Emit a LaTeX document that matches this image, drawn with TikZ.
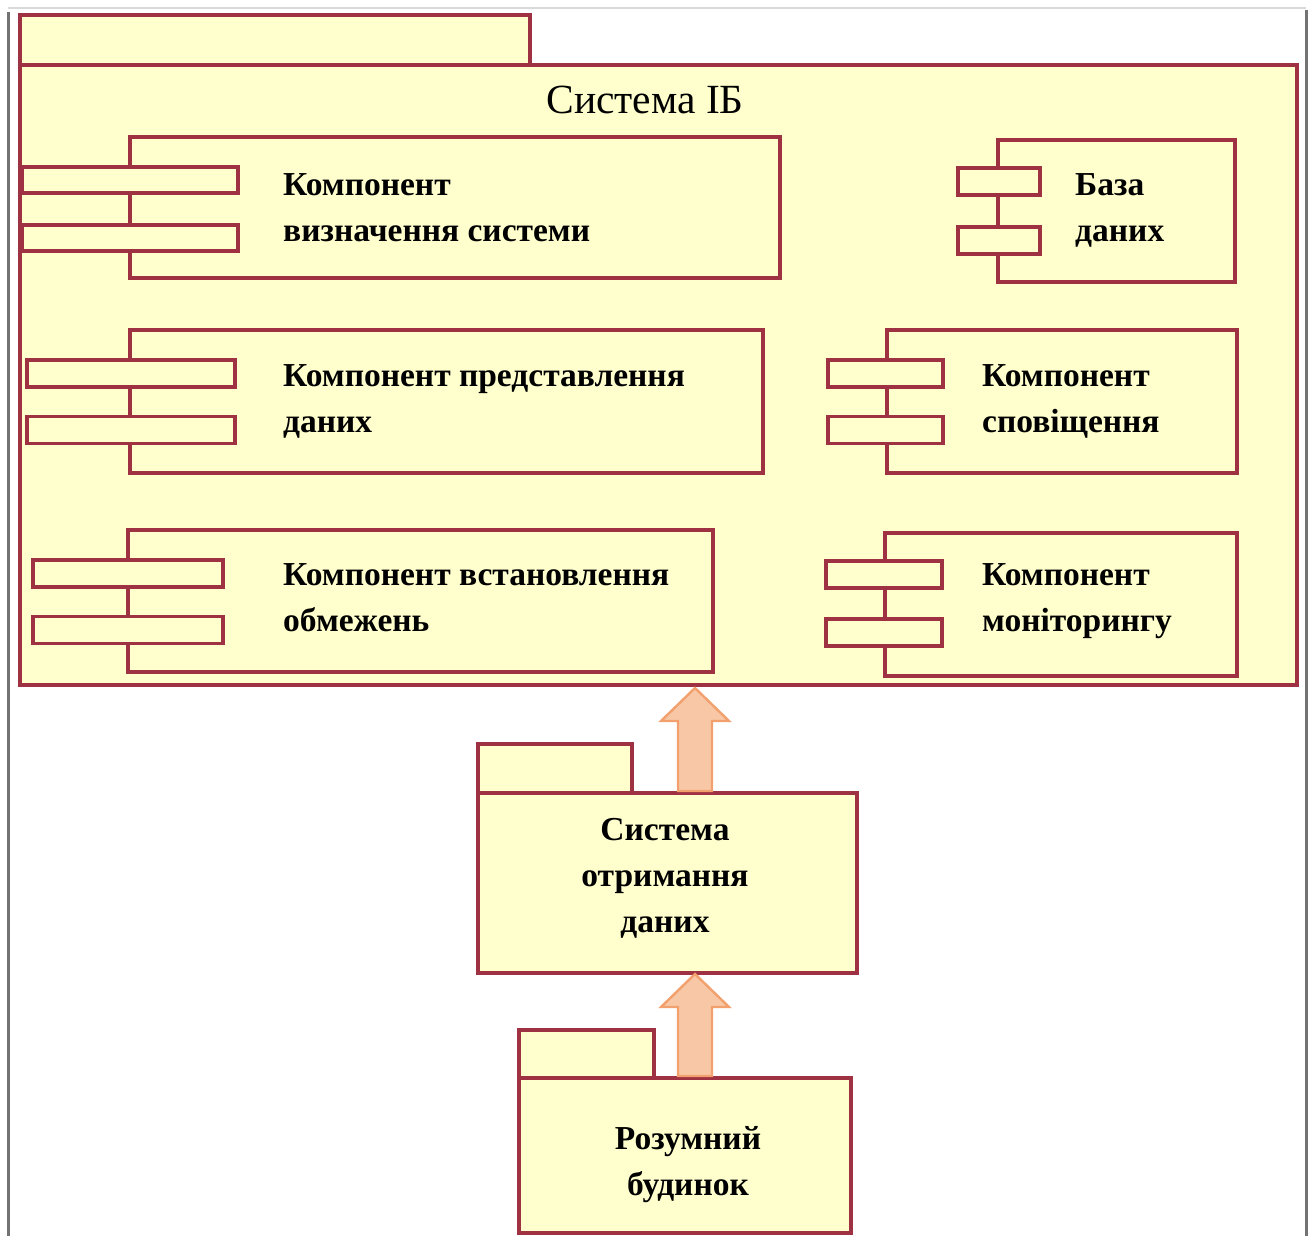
\documentclass[tikz,border=0pt]{standalone}
\usepackage{fontspec}
\setmainfont{Liberation Serif}
\definecolor{umlred}{RGB}{158,50,66}
\definecolor{umlyel}{RGB}{255,255,205}
\definecolor{arrfill}{RGB}{248,199,165}
\definecolor{arrdraw}{RGB}{242,160,110}
\tikzset{
  box/.style={draw=umlred, fill=umlyel, line width=3.4pt, rectangle, inner sep=0pt, outer sep=0pt},
  lbl/.style={inner sep=0pt, align=left, font=\fontsize{33.5}{46}\selectfont\bfseries, anchor=base west},
  clbl/.style={inner sep=0pt, align=center, font=\fontsize{33.5}{46}\selectfont\bfseries, anchor=base},
  blockarr/.style={draw=arrdraw, fill=arrfill, line width=2.4pt, line join=miter},
  frame/.style={draw=black!55, line width=3pt}
}
\begin{document}
\begin{tikzpicture}[x=1pt,y=-1pt]
\useasboundingbox (0,0) rectangle (1315,1236);
% outer frame
\draw[draw=black!15, line width=2.5pt] (8,8) -- (1306,8);
\draw[frame] (8,12) -- (8,1236);
\draw[frame] (1306,10) -- (1306,1236);

% outer package
\node[box, minimum width=510, minimum height=50] (tab1) at (275,40) {};
\node[box, minimum width=1277, minimum height=620] (pkg1) at (658.5,375) {};
\node[inner sep=0pt, font=\fontsize{41.5}{48}\selectfont, anchor=base] (title) at (645,114) {Система ІБ};

% component 1
\node[box, minimum width=650, minimum height=141] (c1) at (455,207.5) {};
\node[box, minimum width=216, minimum height=26] (c1p1) at (130,180) {};
\node[box, minimum width=216, minimum height=26] (c1p2) at (130,238) {};
\node[lbl] (c1t) at (283,241) {Компонент\\визначення системи};

% database
\node[box, minimum width=237, minimum height=142] (db) at (1116.5,211) {};
\node[box, minimum width=82, minimum height=27] (dbp1) at (999,181.5) {};
\node[box, minimum width=82, minimum height=27] (dbp2) at (999,240.5) {};
\node[lbl] (dbt) at (1075,241) {База\\даних};

% component 2
\node[box, minimum width=633, minimum height=143] (c2) at (446.5,401.5) {};
\node[box, minimum width=208, minimum height=27] (c2p1) at (131,373.5) {};
\node[box, minimum width=208, minimum height=27] (c2p2) at (131,430) {};
\node[lbl] (c2t) at (283,432) {Компонент представлення\\даних};

% component notification
\node[box, minimum width=350, minimum height=143] (c4) at (1062,401.5) {};
\node[box, minimum width=115, minimum height=27] (c4p1) at (885.5,373.5) {};
\node[box, minimum width=115, minimum height=27] (c4p2) at (885.5,430) {};
\node[lbl] (c4t) at (982,432) {Компонент\\сповіщення};

% component 3
\node[box, minimum width=585, minimum height=142] (c3) at (420.5,601) {};
\node[box, minimum width=190, minimum height=27] (c3p1) at (128,573.5) {};
\node[box, minimum width=190, minimum height=27] (c3p2) at (128,630) {};
\node[lbl] (c3t) at (283,631) {Компонент встановлення\\обмежень};

% component monitoring
\node[box, minimum width=352, minimum height=143] (c5) at (1061,604.5) {};
\node[box, minimum width=116, minimum height=27] (c5p1) at (884,574.5) {};
\node[box, minimum width=116, minimum height=27] (c5p2) at (884,632.5) {};
\node[lbl] (c5t) at (982,631) {Компонент\\моніторингу};

% package 2
\node[box, minimum width=154, minimum height=49] (tab2) at (555,768.5) {};
\node[box, minimum width=379, minimum height=180] (pkg2) at (667.5,883) {};
\node[clbl] (pkg2t) at (665,932) {Система\\отримання\\даних};

% package 3
\node[box, minimum width=135, minimum height=48] (tab3) at (586.5,1054) {};
\node[box, minimum width=332, minimum height=155] (pkg3) at (685,1155.5) {};
\node[clbl] (pkg3t) at (688,1195) {Розумний\\будинок};

% arrows (from lower package to upper package)
\draw[blockarr] (695,688) -- (729,721) -- (712,721) -- (712,791) -- (678,791) -- (678,721) -- (661,721) -- cycle;
\draw[blockarr] (695,974) -- (729,1007) -- (712,1007) -- (712,1076) -- (678,1076) -- (678,1007) -- (661,1007) -- cycle;
\end{tikzpicture}
\end{document}
